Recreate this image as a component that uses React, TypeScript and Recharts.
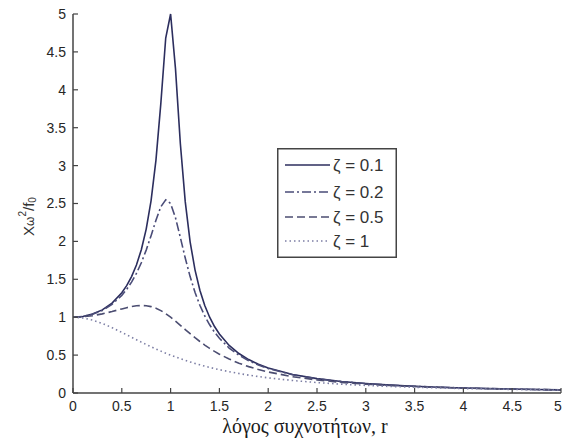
import React from 'react';
import { LineChart, Line, XAxis, YAxis } from 'recharts';

const rValues = [0, 0.1, 0.2, 0.3, 0.4, 0.5, 0.55, 0.6, 0.65, 0.7, 0.75, 0.8, 0.85, 0.9, 0.95, 1, 1.05, 1.1, 1.15, 1.2, 1.25, 1.3, 1.35, 1.4, 1.45, 1.5, 1.6, 1.7, 1.8, 1.9, 2, 2.25, 2.5, 2.75, 3, 3.25, 3.5, 3.75, 4, 4.25, 4.5, 4.75, 5];

const zeta01 = [1, 1.0099, 1.0408, 1.0965, 1.1851, 1.3216, 1.4162, 1.5357, 1.6893, 1.8908, 2.1622, 2.5384, 3.0728, 3.8208, 4.6826, 5.0, 4.2794, 3.288, 2.5245, 1.9952, 1.6245, 1.3562, 1.1552, 1.0, 0.8772, 0.7779, 0.6279, 0.5207, 0.4408, 0.3791, 0.3304, 0.2447, 0.1896, 0.1518, 0.1246, 0.1043, 0.0887, 0.0764, 0.0666, 0.0585, 0.0519, 0.0463, 0.0416];

const zeta02 = [1, 1.0093, 1.0381, 1.0895, 1.1695, 1.2883, 1.3673, 1.463, 1.5789, 1.7188, 1.8851, 2.0761, 2.2785, 2.4566, 2.549, 2.5, 2.3131, 2.0511, 1.78, 1.5357, 1.3287, 1.1574, 1.0163, 0.8998, 0.8027, 0.7212, 0.5931, 0.4979, 0.425, 0.3679, 0.3221, 0.2403, 0.1871, 0.1503, 0.1236, 0.1036, 0.0882, 0.0761, 0.0663, 0.0583, 0.0517, 0.0462, 0.0415];

const zeta05 = [1, 1.005, 1.0198, 1.0436, 1.0748, 1.1094, 1.1258, 1.1399, 1.1501, 1.1546, 1.1517, 1.1399, 1.1184, 1.0872, 1.0471, 1.0, 0.9479, 0.893, 0.8373, 0.7824, 0.7295, 0.6795, 0.6326, 0.5891, 0.549, 0.5121, 0.4475, 0.3934, 0.348, 0.3098, 0.2774, 0.2153, 0.172, 0.1405, 0.117, 0.099, 0.0849, 0.0736, 0.0644, 0.0569, 0.0506, 0.0453, 0.0408];

const zeta1 = [1, 0.9901, 0.9615, 0.9174, 0.8621, 0.8, 0.7678, 0.7353, 0.703, 0.6711, 0.64, 0.6098, 0.5806, 0.5525, 0.5256, 0.5, 0.4756, 0.4525, 0.4306, 0.4098, 0.3902, 0.3717, 0.3543, 0.3378, 0.3223, 0.3077, 0.2809, 0.2571, 0.2358, 0.2169, 0.2, 0.1649, 0.1379, 0.1168, 0.1, 0.0865, 0.0755, 0.0664, 0.0588, 0.0525, 0.0471, 0.0424, 0.0385];

const xTicks = [0, 0.5, 1, 1.5, 2, 2.5, 3, 3.5, 4, 4.5, 5];
const yTicks = [0, 0.5, 1, 1.5, 2, 2.5, 3, 3.5, 4, 4.5, 5];

const seriesNames = ['ζ = 0.1', 'ζ = 0.2', 'ζ = 0.5', 'ζ = 1'];
const seriesKeys = ['z01', 'z02', 'z05', 'z1'];
const seriesColors = ['#2c2e5e', '#4a4c78', '#4c4e72', '#7c7ea4'];
const seriesDash = ['', '9 3 2 3', '8 4', '1.5 3'];

const data = rValues.map((r, i) => ({
  r,
  z01: zeta01[i],
  z02: zeta02[i],
  z05: zeta05[i],
  z1: zeta1[i],
}));

const TICK_FONT = "'Liberation Sans', Arial, sans-serif";
const X_MARGIN = 8;
const Y_MARGIN = 7;
const CHART_W = 563;

const XTick = (props: any) => {
  const { x, y, payload } = props;
  const axisY = y - X_MARGIN;
  const tx = Math.min(x, CHART_W - 5);
  return (
    <g>
      <line x1={x} x2={x} y1={axisY} y2={axisY - 5} stroke="#444" strokeWidth={1.2} />
      <text x={tx} y={y} dy="0.71em" textAnchor="middle" fontSize={14} fill="#262626" fontFamily={TICK_FONT}>
        {payload.value}
      </text>
    </g>
  );
};

const YTick = (props: any) => {
  const { x, y, payload } = props;
  const axisX = x + Y_MARGIN;
  return (
    <g>
      <line x1={axisX} x2={axisX + 5} y1={y} y2={y} stroke="#444" strokeWidth={1.2} />
      <text x={x} y={y} dy="0.355em" textAnchor="end" fontSize={14} fill="#262626" fontFamily={TICK_FONT}>
        {payload.value}
      </text>
    </g>
  );
};

const YLabel = (props: any) => {
  const vb = props.viewBox || {};
  const cx = vb.x + 28;
  const cy = vb.y + vb.height / 2 + 13;
  return (
    <text
      x={cx}
      y={cy}
      transform={`rotate(-90, ${cx}, ${cy})`}
      textAnchor="middle"
      dominantBaseline="central"
      fontSize={15}
      fill="#333"
      fontFamily={TICK_FONT}
    >
      X<tspan fontSize={12} dy={2}>ω</tspan>
      <tspan fontSize={10} dy={-8}>2</tspan>
      <tspan fontSize={15} dy={6}>/f</tspan>
      <tspan fontSize={10} dy={4}>0</tspan>
    </text>
  );
};

const XLabel = (props: any) => {
  const vb = props.viewBox || {};
  const cx = vb.x + vb.width / 2 - 12;
  const cy = vb.y + 40;
  return (
    <text x={cx} y={cy} textAnchor="middle" fontSize={20} fill="#1a1a1a" fontFamily="'Liberation Serif', 'Times New Roman', serif">
      λόγος συχνοτήτων, r
    </text>
  );
};

const LegendBox = () => (
  <svg width={120} height={110} style={{ display: 'block' }}>
    <rect x={0.75} y={0.75} width={118.5} height={108.5} fill="#fff" stroke="#444" strokeWidth={1.5} />
    {seriesNames.map((name, i) => {
      const rowY = [17, 44, 69, 93][i];
      return (
        <g key={name}>
          <line
            x1={8}
            x2={53}
            y1={rowY}
            y2={rowY}
            stroke={seriesColors[i]}
            strokeWidth={1.5}
            strokeDasharray={seriesDash[i] || undefined}
          />
          <text x={56} y={rowY} dy="0.36em" fontSize={17} fill="#333" fontFamily={TICK_FONT}>
            {name}
          </text>
        </g>
      );
    })}
  </svg>
);

export default function App() {
  return (
    <div style={{ position: 'absolute', left: 0, top: 0, width: 563, height: 441, background: '#fff' }}>
      <LineChart width={CHART_W} height={441} data={data} margin={{ top: 14, right: 2, bottom: 0, left: 0 }}>
        <XAxis
          dataKey="r"
          type="number"
          domain={[0, 5]}
          ticks={xTicks}
          height={48}
          tickSize={0}
          tickMargin={X_MARGIN}
          tickLine={false}
          axisLine={{ stroke: '#444', strokeWidth: 1.5 }}
          tick={<XTick />}
          interval={0}
          label={<XLabel />}
        />
        <YAxis
          type="number"
          domain={[0, 5]}
          ticks={yTicks}
          width={73}
          tickSize={0}
          tickMargin={Y_MARGIN}
          tickLine={false}
          axisLine={{ stroke: '#444', strokeWidth: 1.5 }}
          tick={<YTick />}
          interval={0}
          label={<YLabel />}
        />
        {seriesKeys.map((k, i) => (
          <Line
            key={k}
            type="linear"
            dataKey={k}
            name={seriesNames[i]}
            stroke={seriesColors[i]}
            strokeWidth={1.6}
            strokeDasharray={seriesDash[i] || undefined}
            dot={false}
            activeDot={false}
            isAnimationActive={false}
          />
        ))}
      </LineChart>
      <div style={{ position: 'absolute', left: 277, top: 148 }}>
        <LegendBox />
      </div>
    </div>
  );
}
